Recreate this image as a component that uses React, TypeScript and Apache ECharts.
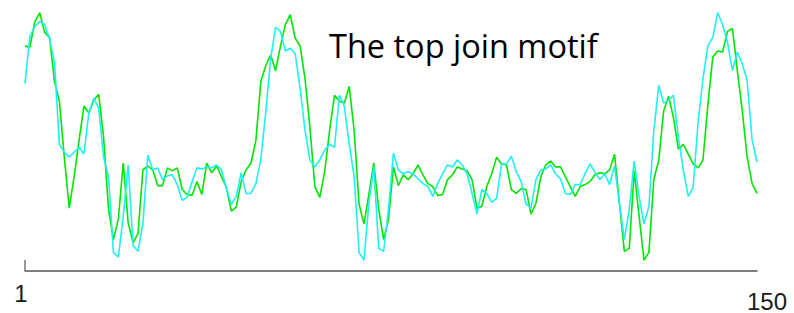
import React, { useEffect, useRef } from "react";
import * as echarts from "echarts";

// Values are read as depth below the top of the plot (larger = lower on the chart)
const greenSeries: number[] = [
  47, 48, 22, 13, 33, 38, 83, 103, 160, 212,
  180, 143, 108, 115, 102, 96, 140, 213, 244, 223,
  166, 227, 247, 238, 173, 169, 173, 189, 189, 171,
  174, 171, 193, 198, 199, 185, 198, 166, 176, 169,
  180, 191, 215, 211, 185, 173, 166, 143, 83, 67,
  56, 72, 47, 25, 15, 39, 47, 80, 130, 190,
  201, 175, 133, 97, 103, 105, 88, 133, 208, 228,
  198, 166, 213, 244, 223, 170, 189, 178, 183, 177,
  168, 178, 187, 190, 199, 198, 183, 178, 170, 172,
  174, 183, 212, 210, 190, 177, 160, 167, 168, 193,
  197, 192, 193, 218, 207, 180, 168, 164, 170, 170,
  180, 190, 200, 190, 188, 185, 178, 176, 177, 173,
  157, 207, 256, 253, 174, 220, 265, 257, 183, 163,
  113, 98, 120, 152, 147, 157, 167, 171, 163, 107,
  58, 52, 53, 32, 29, 72, 113, 160, 187, 197,
];

const cyanSeries: number[] = [
  85, 37, 27, 22, 25, 40, 63, 147, 155, 160,
  155, 150, 157, 115, 100, 110, 160, 180, 257, 262,
  220, 168, 250, 256, 228, 158, 173, 171, 183, 179,
  178, 188, 204, 201, 185, 171, 172, 170, 171, 168,
  173, 192, 208, 200, 176, 197, 197, 187, 162, 115,
  60, 28, 32, 52, 49, 55, 90, 133, 163, 170,
  163, 153, 147, 150, 97, 108, 147, 180, 257, 265,
  207, 170, 253, 256, 213, 156, 173, 177, 175, 177,
  182, 187, 190, 200, 187, 177, 168, 170, 163, 168,
  177, 197, 218, 193, 197, 206, 202, 167, 167, 159,
  175, 185, 208, 212, 183, 173, 172, 168, 177, 182,
  197, 198, 188, 188, 177, 167, 175, 183, 177, 188,
  169, 207, 244, 213, 164, 200, 228, 210, 133, 87,
  105, 102, 97, 140, 173, 200, 191, 125, 80, 47,
  38, 13, 25, 43, 72, 53, 65, 82, 142, 165,
];

const categories: string[] = greenSeries.map((_, i) => String(i + 1));
const tickLabels: string[] = ["1", "150"];
const titleText = "The top join motif";

export default function App() {
  const ref = useRef<HTMLDivElement>(null);
  useEffect(() => {
    if (!ref.current) return;
    const chart = echarts.init(ref.current, null, { renderer: "svg" });
    const last = categories.length - 1;
    chart.setOption({
      animation: false,
      backgroundColor: "#ffffff",
      grid: { left: 25, right: 37, top: 0, bottom: 37, containLabel: false },
      graphic: [
        {
          type: "text",
          left: 329,
          top: 29,
          style: {
            text: titleText,
            fontFamily: "Open Sans",
            fontSize: 32.5,
            fill: "#000000",
          },
        },
      ],
      xAxis: {
        type: "category",
        data: categories,
        boundaryGap: false,
        axisLine: { onZero: false, lineStyle: { color: "#555555", width: 1.5 } },
        axisTick: {
          show: true,
          inside: true,
          length: 11,
          interval: (idx: number) => idx === 0,
          lineStyle: { color: "#777777", width: 1.5 },
        },
        axisLabel: {
          interval: (idx: number) => idx === 0 || idx === last,
          margin: 10,
          formatter: (val: string) => {
            if (val === tickLabels[0]) return "{a|" + val + "}";
            if (val === tickLabels[1]) return "{b|" + val + "}";
            return "";
          },
          rich: {
            a: {
              fontFamily: "Liberation Sans",
              fontSize: 24,
              color: "#1a1a1a",
              padding: [0, 8, 0, 0],
            },
            b: {
              fontFamily: "Liberation Sans",
              fontSize: 24,
              color: "#1a1a1a",
              padding: [8, 0, 0, 20],
            },
          },
        },
        splitLine: { show: false },
      },
      yAxis: {
        type: "value",
        inverse: true,
        min: 0,
        max: 276,
        show: false,
      },
      series: [
        {
          name: "green",
          type: "line",
          data: greenSeries,
          symbol: "none",
          lineStyle: { color: "#00e600", width: 1.6 },
          z: 2,
        },
        {
          name: "cyan",
          type: "line",
          data: cyanSeries,
          symbol: "none",
          lineStyle: { color: "#1ff0f0", width: 1.6 },
          z: 3,
        },
      ],
    });
    return () => chart.dispose();
  }, []);
  return <div ref={ref} style={{ width: 794, height: 313, position: "absolute", left: 0, top: 0 }} />;
}
